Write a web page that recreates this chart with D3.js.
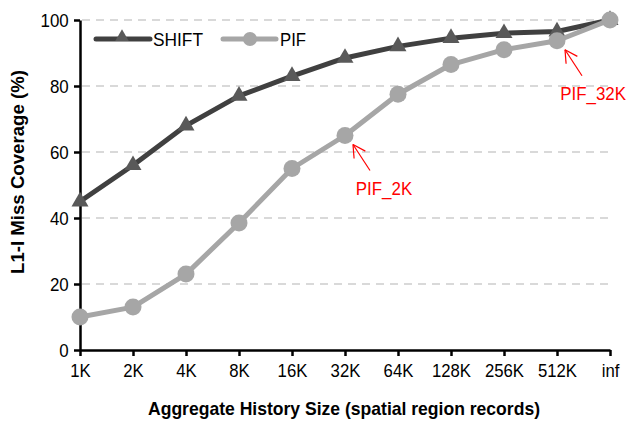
<!DOCTYPE html>
<html><head><meta charset="utf-8">
<script src="https://cdn.jsdelivr.net/npm/d3@7"></script>
<style>body{margin:0;background:#fff;}svg{display:block;font-family:"Liberation Sans",Arial,sans-serif;}</style>
</head><body>
<svg id="c" width="629" height="422"></svg>
<script>
const categories = ["1K","2K","4K","8K","16K","32K","64K","128K","256K","512K","inf"];
const shiftValues = [45, 56, 68, 77, 83, 88.5, 92, 94.5, 96, 96.5, 100];
const pifValues = [10, 13, 23, 38.5, 55, 65, 77.5, 86.5, 91, 93.7, 100];
const yTicks = [0, 20, 40, 60, 80, 100];
const seriesNames = ["SHIFT", "PIF"];
const annotations = [
  {label: "PIF_2K", index: 5},
  {label: "PIF_32K", index: 9}
];

const svg = d3.select("#c");
const x = d3.scalePoint().domain(categories).range([80, 610]);
const y = d3.scaleLinear().domain([0, 100]).range([350, 20]);

// gridlines
svg.append("g").selectAll("line").data(yTicks.filter(d => d > 0)).join("line")
  .attr("x1", 82).attr("x2", 610)
  .attr("y1", d => y(d)).attr("y2", d => y(d))
  .attr("stroke", "#d9d9d9").attr("stroke-width", 2).attr("stroke-dasharray", "8,6");

// axes
const yAxis = svg.append("g").attr("transform", "translate(80,0)")
  .call(d3.axisLeft(y).tickValues(yTicks).tickSize(6).tickSizeOuter(0));
const xAxis = svg.append("g").attr("transform", "translate(0,350)")
  .call(d3.axisBottom(x).tickSize(6).tickSizeOuter(0));
[yAxis, xAxis].forEach(a => {
  a.select(".domain").attr("stroke", "#000").attr("stroke-width", 2.5);
  a.selectAll(".tick line").attr("stroke", "#000").attr("stroke-width", 2.5);
  a.selectAll("text").attr("fill", "#000").style("font-size", "18px")
    .style("font-family", "'Liberation Sans', Arial, sans-serif");
});
yAxis.selectAll("text").attr("x", -12).attr("dy", "0.35em").attr("transform", "scale(0.94,1)");
xAxis.selectAll("text").attr("y", 14).attr("transform", "scale(0.93,1)");

const line = d3.line().x((d, i) => x(categories[i])).y(d => y(d));

const colors = {SHIFT: "#404040", PIF: "#a6a6a6"};

svg.append("path").datum(shiftValues).attr("d", line)
  .attr("fill", "none").attr("stroke", colors.SHIFT).attr("stroke-width", 5).attr("stroke-linejoin", "round");
const tri = d3.symbol().type(d3.symbolTriangle).size(125);
svg.append("g").selectAll("path").data(shiftValues).join("path")
  .attr("d", tri).attr("transform", (d, i) => `translate(${x(categories[i])},${y(d)})`)
  .attr("fill", "#595959");

svg.append("path").datum(pifValues).attr("d", line)
  .attr("fill", "none").attr("stroke", colors.PIF).attr("stroke-width", 5).attr("stroke-linejoin", "round");
svg.append("g").selectAll("circle").data(pifValues).join("circle")
  .attr("cx", (d, i) => x(categories[i])).attr("cy", d => y(d)).attr("r", 8.5)
  .attr("fill", "#a6a6a6");

// legend
const leg = svg.append("g");
leg.append("line").attr("x1", 96).attr("x2", 150).attr("y1", 39).attr("y2", 39)
  .attr("stroke", colors.SHIFT).attr("stroke-width", 5).attr("stroke-linecap", "round");
leg.append("path").attr("d", d3.symbol().type(d3.symbolTriangle).size(80)).attr("transform", "translate(122,37)").attr("fill", "#595959");
leg.append("text").attr("x", 153).attr("y", 46).attr("textLength", 50).attr("lengthAdjust", "spacingAndGlyphs")
  .text(seriesNames[0]).style("font-size", "18px");
leg.append("line").attr("x1", 223).attr("x2", 276).attr("y1", 39).attr("y2", 39)
  .attr("stroke", colors.PIF).attr("stroke-width", 5).attr("stroke-linecap", "round");
leg.append("circle").attr("cx", 250).attr("cy", 39).attr("r", 7).attr("fill", "#a6a6a6");
leg.append("text").attr("x", 280).attr("y", 46).attr("textLength", 26).attr("lengthAdjust", "spacingAndGlyphs")
  .text(seriesNames[1]).style("font-size", "18px");

// annotations
const ann = svg.append("g");
annotations.forEach(a => {
  const px = x(categories[a.index]);
  const py = y(pifValues[a.index]);
  const tipX = px + 8, tipY = py + 9;
  const tailX = tipX + 17, tailY = tipY + 26;
  ann.append("line").attr("x1", tailX).attr("y1", tailY).attr("x2", tipX).attr("y2", tipY)
    .attr("stroke", "red").attr("stroke-width", 1.2);
  const ang = Math.atan2(tailY - tipY, tailX - tipX);
  [-0.5, 0.5].forEach(o => {
    ann.append("line").attr("x1", tipX).attr("y1", tipY)
      .attr("x2", tipX + 14 * Math.cos(ang + o)).attr("y2", tipY + 14 * Math.sin(ang + o))
      .attr("stroke", "red").attr("stroke-width", 1.2);
  });
  const w = a.label.length * 9.4;
  const cx = Math.min(tailX + 14, 626 - w / 2);
  ann.append("text").attr("x", cx).attr("y", tailY + 24).attr("text-anchor", "middle")
    .attr("fill", "red").style("font-size", "18px")
    .attr("textLength", w).attr("lengthAdjust", "spacingAndGlyphs").text(a.label);
});

// axis titles
svg.append("text").attr("x", 344).attr("y", 415).attr("text-anchor", "middle")
  .attr("textLength", 392).attr("lengthAdjust", "spacingAndGlyphs")
  .style("font-size", "19px").style("font-weight", "bold").text("Aggregate History Size (spatial region records)");
svg.append("text").attr("transform", "translate(24,172) rotate(-90)").attr("text-anchor", "middle")
  .attr("textLength", 204).attr("lengthAdjust", "spacingAndGlyphs")
  .style("font-size", "19px").style("font-weight", "bold").text("L1-I Miss Coverage (%)");
</script>
</body></html>
